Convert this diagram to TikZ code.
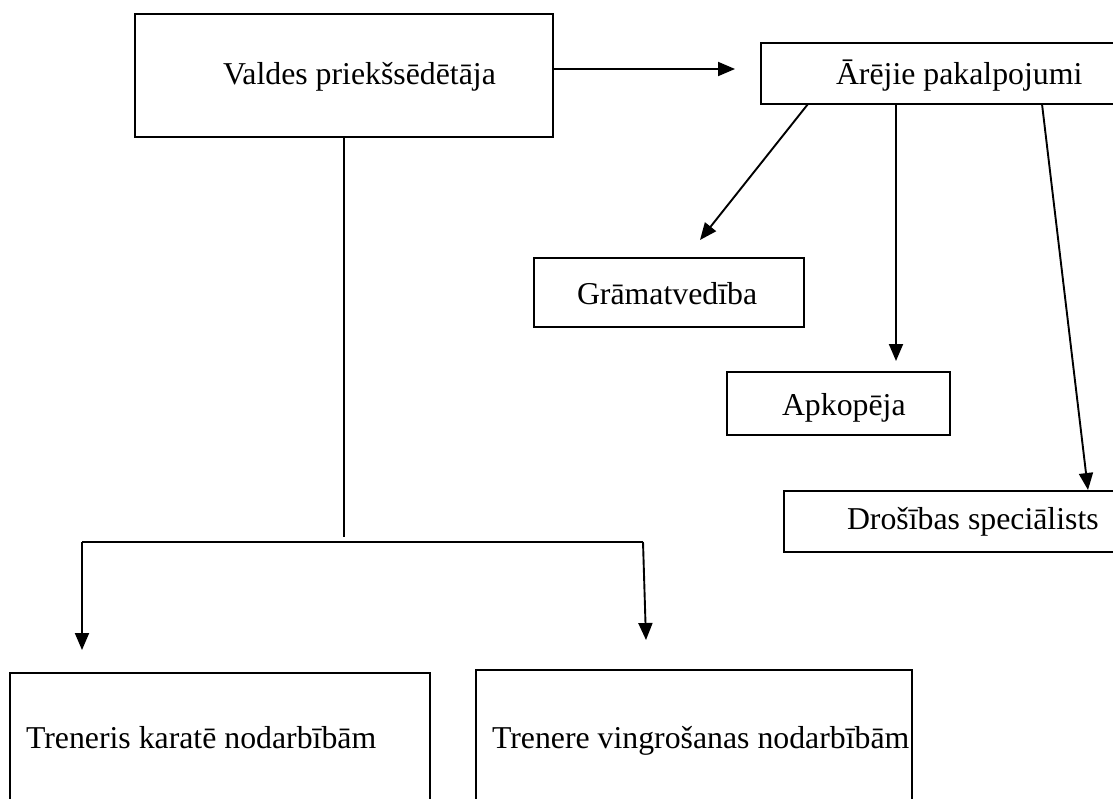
\documentclass[tikz,border=0pt]{standalone}
\usepackage{fontspec}
\setmainfont{Liberation Serif}
\usetikzlibrary{arrows.meta}
\tikzset{
  orgbox/.style={draw=black, line width=1.5pt, inner sep=0pt, outer sep=0pt, anchor=north west, fill=none},
  lbl/.style={inner sep=0pt, outer sep=0pt, anchor=base west, font=\fontsize{31.8}{36}\selectfont},
  conn/.style={line width=1.9pt},
  arr/.style={line width=1.9pt, -{Triangle[length=17pt,width=14pt]}}
}
\begin{document}
\begin{tikzpicture}[x=1pt,y=-1pt]
\useasboundingbox (0,0) rectangle (1113,798);
\fill[white] (0,0) rectangle (1113,798);
\clip (0,0) rectangle (1113,798);
% boxes
\node[orgbox, minimum width=418pt, minimum height=123pt] (valdes) at (135,14) {};
\node[orgbox, minimum width=380pt, minimum height=61pt] (arejie) at (761,43) {};
\node[orgbox, minimum width=270pt, minimum height=69pt] (gram) at (534,258) {};
\node[orgbox, minimum width=223pt, minimum height=63pt] (apk) at (727,372) {};
\node[orgbox, minimum width=360pt, minimum height=61pt] (dros) at (784,491) {};
\node[orgbox, minimum width=420pt, minimum height=160pt] (tren1) at (10,673) {};
\node[orgbox, minimum width=436pt, minimum height=160pt] (tren2) at (476,670) {};
% labels
\node[lbl] (valdesT) at (223,84) {Valdes priekšsēdētāja};
\node[lbl] (arejieT) at (836,84) {Ārējie pakalpojumi};
\node[lbl] (gramT) at (577,304) {Grāmatvedība};
\node[lbl] (apkT) at (782,415) {Apkopēja};
\node[lbl] (drosT) at (847,529) {Drošības speciālists};
\node[lbl] (tren1T) at (26,748) {Treneris karatē nodarbībām};
\node[lbl] (tren2T) at (492,748) {Trenere vingrošanas nodarbībām};
% connector end points
\coordinate (vE) at (553,69);
\coordinate (aTip) at (735,69);
\coordinate (d1s) at (808,104);
\coordinate (d1t) at (700,240);
\coordinate (d2s) at (896,104);
\coordinate (d2t) at (896,361);
\coordinate (d3s) at (1042,104);
\coordinate (d3t) at (1088,490);
\coordinate (vS) at (344,137);
\coordinate (vJ) at (344,537);
\coordinate (hL) at (82,542);
\coordinate (hR) at (643,542);
\coordinate (lTip) at (82,650);
\coordinate (rTip) at (646,640);
% connectors
\draw[arr] (vE) -- (aTip);
\draw[arr] (d1s) -- (d1t);
\draw[arr] (d2s) -- (d2t);
\draw[arr] (d3s) -- (d3t);
\draw[conn] (vS) -- (vJ);
\draw[conn] (hL) -- (hR);
\draw[arr] (hL) -- (lTip);
\draw[arr] (hR) -- (rTip);
\end{tikzpicture}
\end{document}
